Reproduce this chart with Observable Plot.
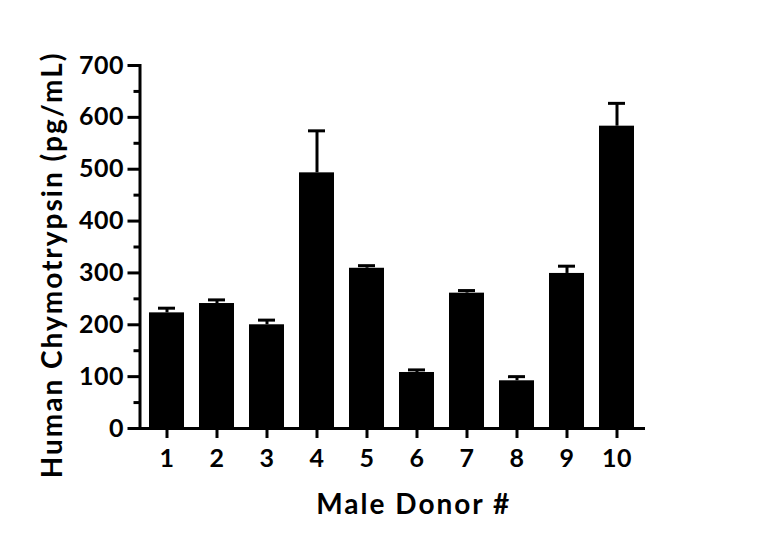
<!DOCTYPE html>
<html>
<head>
<meta charset="utf-8">
<script src="https://cdn.jsdelivr.net/npm/d3@7"></script>
<script src="https://cdn.jsdelivr.net/npm/@observablehq/plot@0.6"></script>
<style>
  html, body { margin: 0; padding: 0; background: #fff; }
</style>
</head>
<body>
<div id="chart"></div>
<script>
const donors = ["1","2","3","4","5","6","7","8","9","10"];
const means  = [223, 241, 200, 493, 309, 108, 261, 92, 299, 583];
const uppers = [232, 248, 209, 574, 314, 113, 266, 100, 313, 627];
const majorTicks = [0,100,200,300,400,500,600,700];
const minorTicks = [50,150,250,350,450,550,650];
const yTitle = "Human Chymotrypsin (pg/mL)";
const xTitle = "Male Donor #";

const data = donors.map((d, i) => ({donor: d, value: means[i], upper: uppers[i]}));

const font = "Lato, 'Open Sans', sans-serif";

const chart = Plot.plot({
  width: 768,
  height: 547,
  marginLeft: 139.5,
  marginRight: 125,
  marginTop: 65,
  marginBottom: 119,
  style: {fontFamily: font, fontWeight: 700, color: "#000", background: "#fff"},
  x: {domain: donors, paddingInner: 0.31, paddingOuter: 0.11, label: null},
  y: {domain: [0, 700], label: null},
  marks: [
    Plot.ruleX(data, {x: "donor", y1: "value", y2: "upper", stroke: "#000", strokeWidth: 3}),
    Plot.tickY(data, {x: "donor", y: "upper", stroke: "#000", strokeWidth: 3, insetLeft: 9, insetRight: 9}),
    Plot.barY(data, {x: "donor", y: "value", fill: "#000"}),
    Plot.axisY(minorTicks, {tickSize: 6, strokeWidth: 3, text: null, label: null}),
    Plot.axisY(majorTicks, {tickSize: 12, tickPadding: 4, strokeWidth: 3, fontSize: 25, fontWeight: 700, label: null}),
    Plot.axisX({tickSize: 10, tickPadding: 11, strokeWidth: 3, fontSize: 25, fontWeight: 700, label: null}),
    Plot.frame({anchor: "left", stroke: "#000", strokeWidth: 3}),
    Plot.frame({anchor: "bottom", stroke: "#000", strokeWidth: 3}),
    Plot.text([yTitle], {text: d => d, frameAnchor: "left", rotate: -90, dx: -87, dy: 18,
      textAnchor: "middle", fontSize: 28, fontWeight: 700, lineAnchor: "middle", fill: "#000"}),
    Plot.text([xTitle], {text: d => d, frameAnchor: "bottom", dx: 22, dy: 77,
      textAnchor: "middle", fontSize: 28, fontWeight: 700, lineAnchor: "middle", fill: "#000"})
  ]
});

chart.querySelectorAll("text").forEach(t => {
  const s = t.textContent;
  if (s === yTitle || s === xTitle) t.style.letterSpacing = "2px";
});
chart.querySelectorAll("[aria-label='y-axis tick label'] text, [aria-label='x-axis tick label'] text").forEach(t => {
  t.style.letterSpacing = "0.5px";
});

document.getElementById("chart").appendChild(chart);
</script>
</body>
</html>
